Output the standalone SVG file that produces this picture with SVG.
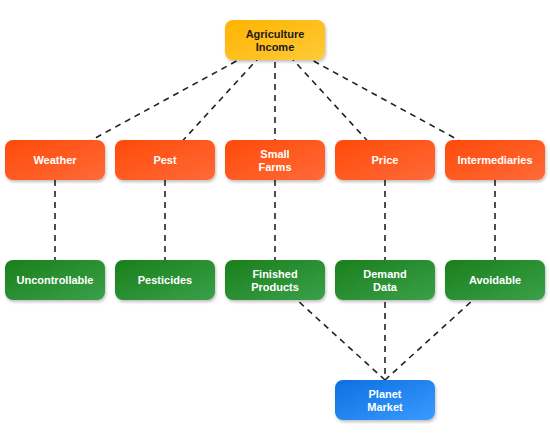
<svg xmlns="http://www.w3.org/2000/svg" width="550" height="440" viewBox="0 0 550 440">
<defs>
<linearGradient id="gY" x1="0" y1="0" x2="1" y2="1"><stop offset="0" stop-color="#ffb300"/><stop offset="1" stop-color="#ffca3a"/></linearGradient>
<linearGradient id="gO" x1="0" y1="0" x2="1" y2="1"><stop offset="0" stop-color="#ff4a0a"/><stop offset="1" stop-color="#ff6a38"/></linearGradient>
<linearGradient id="gG" x1="0" y1="0" x2="1" y2="1"><stop offset="0" stop-color="#1b7f1b"/><stop offset="1" stop-color="#3aa04a"/></linearGradient>
<linearGradient id="gB" x1="0" y1="0" x2="1" y2="1"><stop offset="0" stop-color="#0d6fe0"/><stop offset="1" stop-color="#3a9bff"/></linearGradient>
<filter id="sh" x="-10%" y="-10%" width="130%" height="140%"><feDropShadow dx="1" dy="2" stdDeviation="1.5" flood-color="#000" flood-opacity="0.25"/></filter>
</defs>
<style>
.e{stroke:#222;stroke-width:1.6;stroke-dasharray:6,5;fill:none}
.n rect{filter:url(#sh)}
.t{font-family:"Liberation Sans",Arial,sans-serif;font-size:11px;font-weight:bold;fill:#fff;text-anchor:middle}
.d{fill:#1a1a1a}
</style>
<rect width="550" height="440" fill="#fff"/>
<g id="edges">
<line class="e" x1="275" y1="40" x2="55" y2="160"/>
<line class="e" x1="275" y1="40" x2="165" y2="160"/>
<line class="e" x1="275" y1="40" x2="275" y2="160"/>
<line class="e" x1="275" y1="40" x2="385" y2="160"/>
<line class="e" x1="275" y1="40" x2="495" y2="160"/>
<line class="e" x1="55" y1="180" x2="55" y2="260"/>
<line class="e" x1="165" y1="180" x2="165" y2="260"/>
<line class="e" x1="275" y1="180" x2="275" y2="260"/>
<line class="e" x1="385" y1="180" x2="385" y2="260"/>
<line class="e" x1="495" y1="180" x2="495" y2="260"/>
<line class="e" x1="275" y1="280" x2="385" y2="380"/>
<line class="e" x1="385" y1="280" x2="385" y2="380"/>
<line class="e" x1="495" y1="280" x2="385" y2="380"/>
</g>
<g id="agri" class="n"><rect x="225" y="20" width="100" height="40" rx="8" fill="url(#gY)"/><text class="t d" x="275" y="38">Agriculture</text><text class="t d" x="275" y="51">Income</text></g>
<g id="weather" class="n"><rect x="5" y="140" width="100" height="40" rx="8" fill="url(#gO)"/><text class="t" x="55" y="164">Weather</text></g>
<g id="pest" class="n"><rect x="115" y="140" width="100" height="40" rx="8" fill="url(#gO)"/><text class="t" x="165" y="164">Pest</text></g>
<g id="farms" class="n"><rect x="225" y="140" width="100" height="40" rx="8" fill="url(#gO)"/><text class="t" x="275" y="158">Small</text><text class="t" x="275" y="171">Farms</text></g>
<g id="price" class="n"><rect x="335" y="140" width="100" height="40" rx="8" fill="url(#gO)"/><text class="t" x="385" y="164">Price</text></g>
<g id="inter" class="n"><rect x="445" y="140" width="100" height="40" rx="8" fill="url(#gO)"/><text class="t" x="495" y="164">Intermediaries</text></g>
<g id="unc" class="n"><rect x="5" y="260" width="100" height="40" rx="8" fill="url(#gG)"/><text class="t" x="55" y="284">Uncontrollable</text></g>
<g id="pesticides" class="n"><rect x="115" y="260" width="100" height="40" rx="8" fill="url(#gG)"/><text class="t" x="165" y="284">Pesticides</text></g>
<g id="finished" class="n"><rect x="225" y="260" width="100" height="40" rx="8" fill="url(#gG)"/><text class="t" x="275" y="278">Finished</text><text class="t" x="275" y="291">Products</text></g>
<g id="demand" class="n"><rect x="335" y="260" width="100" height="40" rx="8" fill="url(#gG)"/><text class="t" x="385" y="278">Demand</text><text class="t" x="385" y="291">Data</text></g>
<g id="avoid" class="n"><rect x="445" y="260" width="100" height="40" rx="8" fill="url(#gG)"/><text class="t" x="495" y="284">Avoidable</text></g>
<g id="planet" class="n"><rect x="335" y="380" width="100" height="40" rx="8" fill="url(#gB)"/><text class="t" x="385" y="398">Planet</text><text class="t" x="385" y="411">Market</text></g>
</svg>
